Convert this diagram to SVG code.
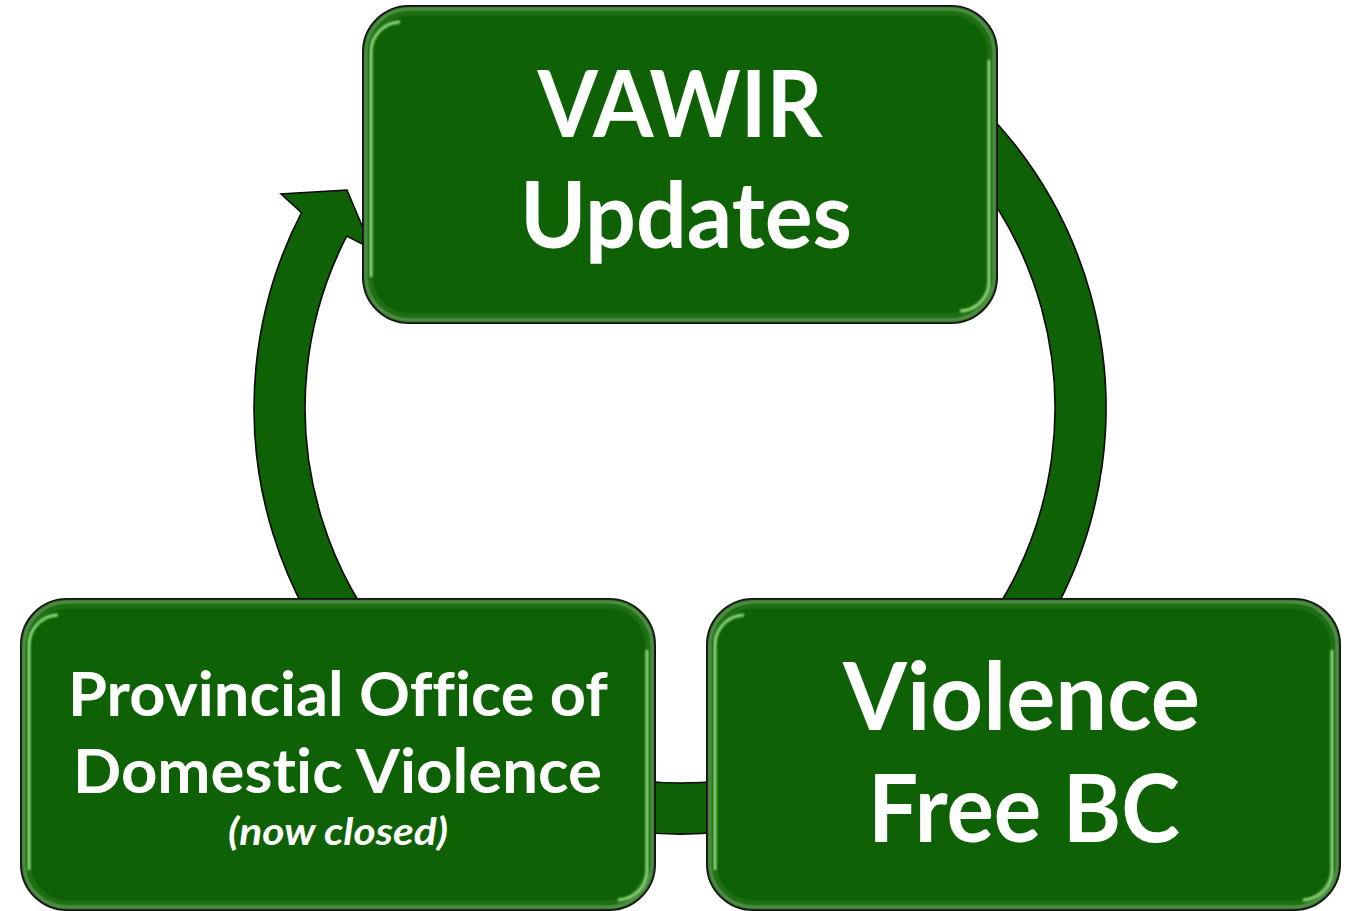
<svg xmlns="http://www.w3.org/2000/svg" width="1350" height="911" viewBox="0 0 1350 911">
  <defs>
    <style>
      .box { fill: #0e6104; stroke: #0a0a0a; stroke-width: 2; }
      .edge { fill: none; stroke: #b5d8ab; stroke-width: 3; opacity: 0.55; filter: url(#soft); }
      .glow { fill: none; stroke: #a4ec90; stroke-width: 2.8; opacity: 0.9; filter: url(#soft1); }
      .faint { fill: none; stroke: #9fe88c; stroke-width: 2; opacity: 0.18; filter: url(#soft1); }
      .ring { fill: #0e6104; stroke: #0a0a0a; stroke-width: 1.6; stroke-linejoin: miter; }
      .t { fill: #ffffff; font-family: Lato, "Open Sans", "Liberation Sans", sans-serif; font-weight: bold; text-anchor: middle; font-variant-ligatures: none; font-feature-settings: "liga" 0, "dlig" 0, "clig" 0; }
      .ti { fill: #ffffff; font-family: Lato, "Open Sans", "Liberation Sans", sans-serif; font-weight: bold; font-style: italic; text-anchor: middle; font-variant-ligatures: none; font-feature-settings: "liga" 0, "dlig" 0, "clig" 0; }
    </style>
    <filter id="soft" x="-5%" y="-5%" width="110%" height="110%">
      <feGaussianBlur stdDeviation="1.5"/>
    </filter>
    <filter id="soft1" x="-5%" y="-5%" width="110%" height="110%">
      <feGaussianBlur stdDeviation="0.9"/>
    </filter>
  </defs>

  <g id="connectors">
    <path class="ring" d="M 893 39.1 A 426 426 0 1 1 301.5 212.6 L 281 194 L 347 190 L 371.7 248.8 L 346.8 236 A 375 375 0 1 0 867.5 83.2 Z"/>
  </g>

  <g id="node-vawir">
    <rect class="box" x="363" y="6" width="634" height="317" rx="46" ry="46"/>
    <rect class="edge" x="366" y="9" width="628" height="311" rx="43" ry="43"/>
    <rect class="faint" x="371" y="14" width="618" height="301" rx="38" ry="38"/>
    <path class="glow" d="M 400 22 A 30 30 0 0 0 371 52 L 371 277"/>
    <path class="glow" d="M 989 60 L 989 285 A 30 30 0 0 1 960 311"/>
    <text class="t" x="680" y="137" font-size="92" textLength="285" lengthAdjust="spacingAndGlyphs">VAWIR</text>
    <text class="t" x="686" y="248" font-size="92" textLength="332" lengthAdjust="spacingAndGlyphs">Updates</text>
  </g>

  <g id="node-provincial">
    <rect class="box" x="21" y="599" width="634" height="311" rx="46" ry="46"/>
    <rect class="edge" x="24" y="602" width="628" height="305" rx="43" ry="43"/>
    <rect class="faint" x="29" y="607" width="618" height="295" rx="38" ry="38"/>
    <path class="glow" d="M 58 615 A 30 30 0 0 0 29 645 L 29 870"/>
    <path class="glow" d="M 647 650 L 647 872 A 30 30 0 0 1 618 900"/>
    <text class="t" x="338" y="716" font-size="62" textLength="540" lengthAdjust="spacingAndGlyphs">Provincial Office of</text>
    <text class="t" x="337.5" y="793" font-size="62" textLength="529" lengthAdjust="spacingAndGlyphs">Domestic Violence</text>
    <text class="ti" x="338" y="845" font-size="38" textLength="220" lengthAdjust="spacingAndGlyphs">(now closed)</text>
  </g>

  <g id="node-violence-free-bc">
    <rect class="box" x="707" y="599" width="633" height="311" rx="46" ry="46"/>
    <rect class="edge" x="710" y="602" width="627" height="305" rx="43" ry="43"/>
    <rect class="faint" x="715" y="607" width="617" height="295" rx="38" ry="38"/>
    <path class="glow" d="M 744 615 A 30 30 0 0 0 715 645 L 715 870"/>
    <path class="glow" d="M 1332 650 L 1332 872 A 30 30 0 0 1 1303 900"/>
    <text class="t" x="1021.5" y="730" font-size="94" textLength="357" lengthAdjust="spacingAndGlyphs">Violence</text>
    <text class="t" x="1024" y="842" font-size="94" textLength="312" lengthAdjust="spacingAndGlyphs">Free BC</text>
  </g>
</svg>
